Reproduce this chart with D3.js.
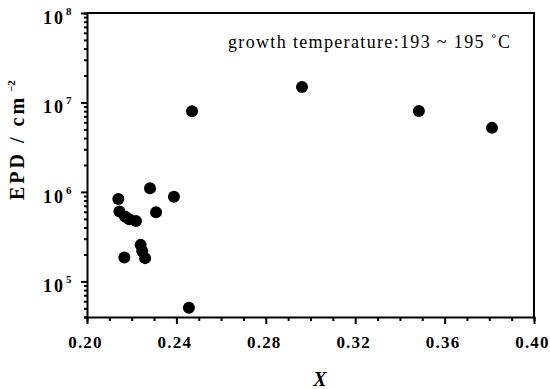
<!DOCTYPE html>
<html>
<head>
<meta charset="utf-8">
<script src="https://cdn.jsdelivr.net/npm/d3@7"></script>
<style>
  body { margin: 0; background: #fff; }
  svg { display: block; }
  .axis path, .axis line { stroke: #000; stroke-width: 2; }
  text { font-family: "Liberation Serif", "Times New Roman", serif; fill: #000; }
</style>
</head>
<body>
<div id="chart"></div>
<script>
// composition X vs etch pit density (cm^-2)
const xValues = [0.2140, 0.2282, 0.2389, 0.2145, 0.2170, 0.2189, 0.2219, 0.2309,
  0.2240, 0.2247, 0.2260, 0.2167, 0.2456, 0.2470, 0.2962, 0.3485, 0.3812];
const epdValues = [8.35e5, 1.10e6, 8.86e5, 6.03e5, 5.30e5, 4.95e5, 4.74e5, 5.93e5,
  2.56e5, 2.19e5, 1.82e5, 1.85e5, 5.06e4, 8.0e6, 1.49e7, 8.03e6, 5.2e6];

const xTicks = [0.20, 0.24, 0.28, 0.32, 0.36, 0.40];
const yDecades = [5, 6, 7, 8];
const note = 'growth temperature:193 ~ 195 ˚C';

const width = 550, height = 389;
const margin = { top: 13, right: 16, bottom: 72, left: 87 };

const svg = d3.select('#chart').append('svg')
  .attr('width', width)
  .attr('height', height);

const x = d3.scaleLinear()
  .domain([0.20, 0.40])
  .range([margin.left, width - margin.right]);

const y = d3.scaleLog()
  .domain([4e4, 1e8])
  .range([height - margin.bottom, margin.top]);

// minor ticks
const xMinor = d3.range(21, 40).map(d => d / 100).filter(d => Math.round(d * 100) % 4 !== 0);
const yMinor = [];
[4, 5, 6, 7].forEach(e => {
  for (let k = 2; k <= 9; k++) {
    const v = k * Math.pow(10, e);
    if (v >= 4e4 && v < 1e8) yMinor.push(v);
  }
});

// frame (top + right)
svg.append('path')
  .attr('d', `M${x(0.20)},${y(1e8)}H${x(0.40)}V${y(4e4)}`)
  .attr('fill', 'none')
  .attr('stroke', '#000')
  .attr('stroke-width', 2);

// x axis
const xAxis = svg.append('g')
  .attr('class', 'axis')
  .attr('transform', `translate(0,${y(4e4)})`);

xAxis.call(d3.axisBottom(x).tickValues(xMinor).tickSize(4).tickFormat(''));
xAxis.append('g').call(d3.axisBottom(x).tickValues(xTicks).tickSize(7).tickFormat(d3.format('.2f')))
  .call(g => g.select('.domain').remove())
  .call(g => g.attr('font-family', null))
  .selectAll('text')
  .attr('dy', null)
  .attr('y', 31)
  .attr('dx', -2)
  .attr('font-size', 17)
  .attr('font-weight', 'bold')
  .attr('letter-spacing', 1.2);

// y axis
const yAxis = svg.append('g')
  .attr('class', 'axis')
  .attr('transform', `translate(${x(0.20)},0)`);

yAxis.call(d3.axisLeft(y).tickValues(yMinor).tickSize(3).tickFormat(''));
yAxis.append('g').call(d3.axisLeft(y).tickValues(yDecades.map(e => Math.pow(10, e))).tickSize(6).tickFormat(''))
  .call(g => g.select('.domain').remove());

// decade labels
const yLab = svg.append('g');
yDecades.forEach(e => {
  const t = yLab.append('text')
    .attr('x', 43)
    .attr('y', y(Math.pow(10, e)) + 11)
    .attr('font-size', 18)
    .attr('font-weight', 'bold')
    .attr('letter-spacing', 2)
    .text('10');
  t.append('tspan')
    .attr('dx', 1)
    .attr('dy', -9)
    .attr('font-size', 11)
    .attr('letter-spacing', 0)
    .text(e);
});

// points
svg.append('g')
  .selectAll('circle')
  .data(xValues.map((v, i) => [v, epdValues[i]]))
  .enter().append('circle')
  .attr('cx', d => x(d[0]))
  .attr('cy', d => y(d[1]))
  .attr('r', 6)
  .attr('fill', '#000');

// note
svg.append('text')
  .attr('x', 228)
  .attr('y', 48)
  .attr('font-size', 18)
  .attr('textLength', 282)
  .attr('lengthAdjust', 'spacing')
  .text(note);

// axis titles
svg.append('text')
  .attr('x', 320)
  .attr('y', 386)
  .attr('text-anchor', 'middle')
  .attr('font-size', 20)
  .attr('font-weight', 'bold')
  .attr('font-style', 'italic')
  .text('X');

const yTitle = svg.append('text')
  .attr('transform', 'translate(24,200) rotate(-90)')
  .attr('font-size', 20)
  .attr('font-weight', 'bold')
  .attr('letter-spacing', 3)
  .text('EPD / cm');
yTitle.append('tspan')
  .attr('dx', 3)
  .attr('dy', -9)
  .attr('font-size', 11)
  .attr('letter-spacing', 0)
  .text('−2');
</script>
</body>
</html>
